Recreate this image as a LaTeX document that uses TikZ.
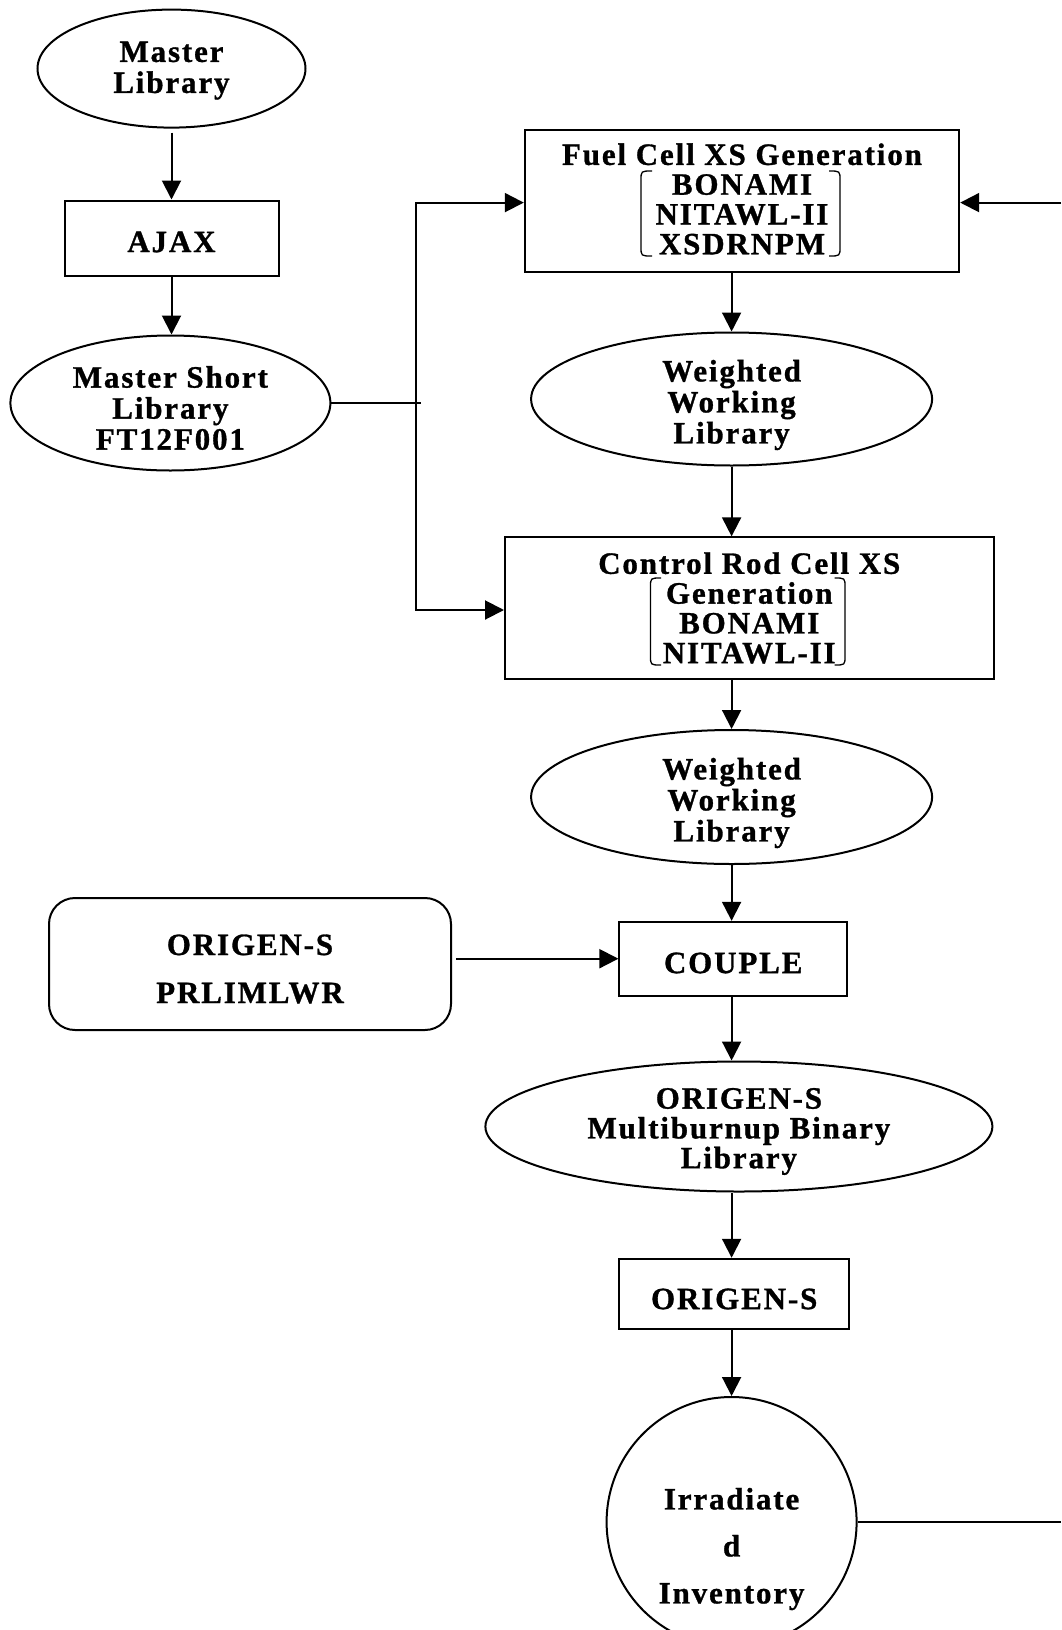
\documentclass[tikz,border=0pt]{standalone}
\usepackage{fontspec}
\setmainfont{Liberation Serif}[LetterSpace=6,FakeBold=1]
\usetikzlibrary{shapes.geometric,arrows.meta}
\tikzset{
  every node/.style={font=\fontsize{31}{31}\selectfont\bfseries, align=center, inner sep=0pt},
  tight/.style={font=\fontsize{31}{29.8}\selectfont\bfseries},
  wide/.style={font=\fontsize{31}{48}\selectfont\bfseries},
  box/.style={draw, line width=2pt, rectangle},
  oval/.style={draw, line width=2pt, ellipse},
  arr/.style={line width=2pt, -{Triangle[length=19pt,width=19pt]}},
  con/.style={line width=2pt},
  brk/.style={line width=1.3pt},
}
\begin{document}
\begin{tikzpicture}[x=1pt,y=-1pt]
\path[fill=white] (0,0) rectangle (1061,1630);
\useasboundingbox (0,0) rectangle (1061,1630);

% shapes
\node[oval, minimum width=268pt, minimum height=118pt] (ml) at (171.5,68.6) {};
\node[box, minimum width=214pt, minimum height=75pt] (ajax) at (171.5,238) {};
\node[oval, minimum width=320pt, minimum height=135pt] (msl) at (170.4,403) {};
\node[box, minimum width=434.4pt, minimum height=142.4pt] (fuel) at (742,201) {};
\node[oval, minimum width=401pt, minimum height=133pt] (ww1) at (731.6,399) {};
\node[box, minimum width=488.5pt, minimum height=141.3pt] (ctrl) at (749.25,608) {};
\node[oval, minimum width=401pt, minimum height=134pt] (ww2) at (731.6,797) {};
\node[box, minimum width=227.6pt, minimum height=73.8pt] (couple) at (733.2,958.7) {};
\node[box, rounded corners=26pt, minimum width=402pt, minimum height=132pt] (orig) at (250,964) {};
\node[oval, minimum width=507pt, minimum height=130pt] (mbl) at (738.9,1126.5) {};
\node[box, minimum width=229.6pt, minimum height=70.5pt] (origen) at (734.2,1294) {};
\node[draw, circle, line width=2pt, minimum size=250pt] (inv) at (731.6,1522) {};

% texts
\node (mlt) at (171.5,70.6) {Master\\Library};
\node (ajaxt) at (171.5,242) {AJAX};
\node (mslt) at (170.4,408) {Master Short\\Library\\FT12F001};
\node[tight] (fuelt) at (742,199) {Fuel Cell XS Generation\\BONAMI\\NITAWL-II\\XSDRNPM};
\node (ww1t) at (731.6,405) {Weighted\\Working\\Library};
\node[tight] (ctrlt) at (749.25,608) {Control Rod Cell XS\\Generation\\BONAMI\\NITAWL-II};
\node (ww2t) at (731.6,803) {Weighted\\Working\\Library};
\node (couplet) at (733.2,963) {COUPLE};
\node[wide] (origt) at (250,969) {ORIGEN-S\\PRLIMLWR};
\node[tight] (mblt) at (738.9,1131.5) {ORIGEN-S\\Multiburnup Binary\\Library};
\node (origent) at (734.2,1299) {ORIGEN-S};
\node[font=\fontsize{31}{47}\selectfont\bfseries] (invt) at (731.6,1549) {Irradiate\\d\\Inventory};

% brackets
\draw[brk] (652,171) .. controls (641,171) .. (641,180) -- (641,247) .. controls (641,256) .. (652,256);
\draw[brk] (829,171) .. controls (840,171) .. (840,180) -- (840,247) .. controls (840,256) .. (829,256);
\draw[brk] (661,578) .. controls (650.5,578) .. (650.5,587) -- (650.5,656) .. controls (650.5,665) .. (661,665);
\draw[brk] (834.5,578) .. controls (845,578) .. (845,587) -- (845,656) .. controls (845,665) .. (834.5,665);

% connectors
\draw[arr] ([yshift=-4pt]ml.south) -- (ajax.north);
\draw[arr] (ajax.south) -- (ajax.south |- msl.north);
\coordinate (j) at (416,403);
\draw[con] (msl.east) -- ([xshift=5pt]j);
\draw[arr] (j) |- ([yshift=-1.6pt]fuel.west);
\draw[arr] (j) |- ([yshift=-2pt]ctrl.west);
\coordinate (r2) at (1061,202.6);
\draw[arr] (r2) -- (r2 -| fuel.east);
\draw[arr] (ww1.north |- fuel.south) -- (ww1.north);
\draw[arr] (ww1.south) -- (ww1.south |- ctrl.north);
\draw[arr] (ww2.north |- ctrl.south) -- (ww2.north);
\draw[arr] (ww2.south) -- (ww2.south |- couple.north);
\coordinate (oe) at ([xshift=4pt]orig.east);
\draw[arr] (oe |- couple.west) -- (couple.west);
\draw[arr] (ww2.south |- couple.south) -- (ww2.south |- mbl.north);
\draw[arr] (ww2.south |- mbl.south) -- (ww2.south |- origen.north);
\draw[arr] (ww2.south |- origen.south) -- (inv.north);
\coordinate (r1) at (1061,1520);
\draw[con] (inv.east) -- (inv.east -| r1);
\end{tikzpicture}
\end{document}
